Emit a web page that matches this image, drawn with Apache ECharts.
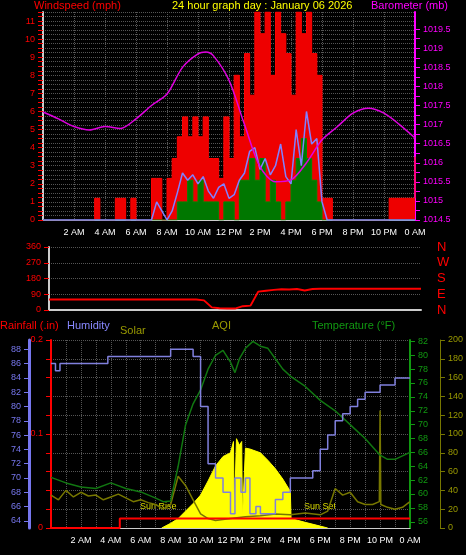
<!DOCTYPE html>
<html>
<head>
<meta charset="utf-8">
<script src="https://cdn.jsdelivr.net/npm/echarts@6/dist/echarts.min.js"></script>
<style>html,body{margin:0;background:#000;}#chart{width:466px;height:555px;}</style>
</head>
<body>
<div id="chart"></div>
<script>
// wind speed, 20 minute steps (72 values + end point)
var windGust = [0,0,0, 0,0,0, 0,0,0, 0,1.2,0, 0,0,1.2, 1.2,0,1.2, 0,0,0,
  2.3,2.3,0, 2.3,3.4,4.6, 5.7,4.6,5.7, 4.6,5.7,3.4, 3.4,2.3,5.7, 3.4,8,4.6,
  9.2,6.9,11.5, 10.3,11.5,8, 11.5,10.3,9.2, 6.9,11.5,10.3, 11.5,9.2,8, 1.2,1.2,0,
  0,0,0, 0,0,0, 0,0,0, 0,1.2,1.2, 1.2,1.2,1.2, 3.5];
var windAvg = [0,0,0, 0,0,0, 0,0,0, 0,0,0, 0,0,0, 0,0,0, 0,0,0, 0,0,0, 0,0,1,
  1,2.2,1, 2.2,1,1, 1,0,1, 1,0,2.2, 2.2,3.4,2.2, 3.4,1,2.2, 1,0,1, 2.2,3.4,4.5,
  3.4,2.2,1, 0,0,0, 0,0,0, 0,0,0, 0,0,0, 0,0,0, 0,0,0, 0];
var windSmooth = [0,0,0, 0,0,0, 0,0,0, 0,0,0, 0,0,0, 0,0,0, 0,0,0, 0,1,0.5, 0,0.5,1.5,
  2.6,2.2,2.5, 2.0,2.4,1.6, 1.2,1.8,2.0, 1.2,1.4,2.2, 2.6,3.8,4.0, 2.8,3.4,2.5,
  3.0,4.2,2.4, 2.0,5.0,3.0, 6.0,4.2,4.5, 1.0,0,0, 0,0,0, 0,0,0, 0,0,0, 0,0,0, 0,0,0, 0];
// barometer, hourly
var baroHours = [0,1,2,3,4,5,6,7,8,9,10,10.5,11,12,13,14,15,16,17,18,19,20,21,22,23,24];
var baro = [1017.33,1017.15,1016.95,1016.86,1016.95,1016.9,1017.15,1017.5,1017.8,1018.5,1018.85,1018.9,1018.8,1018.16,1017.0,1015.9,1015.5,1015.55,1016.0,1016.6,1016.95,1017.3,1017.43,1017.3,1017.0,1016.65];
// wind direction, half hourly
var windDir = [60,60,60,60,60,60,60,60,60,60,60,60,60,60,60,60,60,60,60,60,55,15,10,8,8,22,25,105,110,115,
  118,117,120,112,120,122,122,122,122,122,122,122,122,122,122,122,122,122,122];
// humidity
var humHours = [0,0.3,0.6,3.8,8,9.5,10,10.5,11,11.5,12,12.3,12.7,13,13.3,13.7,14,14.5,15,15.5,16,16.5,17,17.5,18,18.5,19,19.5,20,20.5,21,22,23,24];
var humidity = [86,85,86,87,88,87,80,72,70,68,65,70,68,70,65,66,65,65,67,68,70,70,70,71,74,76,78,79,80,81,82,83,84,84];
// temperature
var tempHours = [0,1,2,3,4,5,6,7,7.5,8,8.5,9,9.5,10,10.5,11,11.5,12,12.3,12.6,13,13.5,14,14.5,15,15.5,16,17,18,19,20,21,22,22.5,23,23.5,24];
var temperature = [62.4,61.6,61,60.8,61.6,60.8,60.3,59.4,58.9,59,64,70,73,75,78,80,80.7,79,77.5,79.5,81,82,81.3,81,79.5,78,77,75.5,73.5,72,70,68,65.6,65,65,65.5,66];
// solar
var solarHours = [7.4,8,8.5,9,9.5,10,10.5,11,11.5,12,12.2,12.25,12.4,12.6,12.75,12.8,13,13.3,14,14.5,15,15.5,16,16.05,17,18,18.5];
var solar = [0,5,10,18,26,35,50,66,76,80,92,10,95,88,92,10,85,84,80,72,63,52,39,10,6,2,0];
// AQI
var aqiHours = [0,0.5,1,1.5,2,2.5,3,3.5,4,4.5,5,5.5,6,6.5,7,7.5,8,8.5,9,9.5,10,10.5,11,12,13,14,15,16,17,18,18.5,19,19.5,20,20.5,21,21.5,21.95,22,22.05,22.5,23,23.5,24];
var aqi = [35,30,40,33,38,34,35,30,33,36,32,28,30,27,25,20,25,55,45,30,15,10,8,10,12,13,15,14,16,14,18,42,35,38,28,25,25,28,125,25,22,20,22,28];
// rainfall
var rainHours = [0,4.6,24];
var rain = [0,0.01,0.01];

function pairs(xs, ys) { return ys.map(function (v, i) { return [xs[i], v]; }); }
function steps(ys) { return ys.map(function (v, i) { return [i / 3, v]; }); }
function range(a, b, s) { var r = []; for (var v = a; v <= b + 1e-9; v += s) r.push(+v.toFixed(2)); return r; }
function hourLabel(v) {
	if (v === 0 || v % 2) return '';
	if (v === 24) return '0 AM';
	if (v === 12) return '12 PM';
	return v < 12 ? v + ' AM' : (v - 12) + ' PM';
}

var FONT = 'Liberation Sans';
var dotted = { lineStyle: { color: '#555', type: 'dotted' } };

var chart = echarts.init(document.getElementById('chart'));
chart.setOption({
	backgroundColor: '#000',
	animation: false,
	textStyle: { fontFamily: FONT },
	graphic: [
		{ type: 'text', left: 34, top: 0, style: { text: 'Windspeed (mph)', fill: '#f00', font: '11px ' + FONT } },
		{ type: 'text', left: 172, top: 0, style: { text: '24 hour graph day : January 06 2026', fill: '#ff0', font: '11px ' + FONT } },
		{ type: 'text', left: 371, top: 0, style: { text: 'Barometer (mb)', fill: '#f0f', font: '11px ' + FONT } },
		{ type: 'text', left: 0, top: 320, style: { text: 'Rainfall (.in)', fill: '#f00', font: '11px ' + FONT } },
		{ type: 'text', left: 67, top: 320, style: { text: 'Humidity', fill: '#8888ff', font: '11px ' + FONT } },
		{ type: 'text', left: 120, top: 325, style: { text: 'Solar', fill: '#999900', font: '11px ' + FONT } },
		{ type: 'text', left: 212, top: 320, style: { text: 'AQI', fill: '#999900', font: '11px ' + FONT } },
		{ type: 'text', left: 312, top: 320, style: { text: 'Temperature (°F)', fill: '#119911', font: '11px ' + FONT } },
		{ type: 'text', left: 140, top: 502, style: { text: 'Sun Rise', fill: '#dddd00', font: '9px ' + FONT } },
		{ type: 'text', left: 304, top: 502, style: { text: 'Sun Set', fill: '#dddd00', font: '9px ' + FONT } }
	],
	grid: [
		{ left: 43, right: 51, top: 12, height: 208 },
		{ left: 49, right: 45, top: 247, height: 63 },
		{ left: 51, right: 51, top: 340, height: 188 }
	],
	xAxis: [
		{ gridIndex: 0, type: 'value', min: 0, max: 24, interval: 2,
			axisLine: { lineStyle: { color: '#ccc' } }, axisTick: { show: false },
			axisLabel: { color: '#fff', fontSize: 9, formatter: hourLabel },
			splitLine: dotted },
		{ gridIndex: 1, type: 'value', min: 0, max: 24, interval: 2,
			axisLine: { lineStyle: { color: '#ccc', width: 2 } }, axisTick: { show: false },
			axisLabel: { show: false }, splitLine: { show: false } },
		{ gridIndex: 2, type: 'value', min: 0, max: 24, interval: 1,
			axisLine: { lineStyle: { color: '#ccc' } }, axisTick: { show: false },
			axisLabel: { color: '#fff', fontSize: 9, formatter: hourLabel },
			splitLine: dotted }
	],
	yAxis: [
		{ gridIndex: 0, min: 0, max: 11.5,
			axisLine: { show: true, onZero: false, lineStyle: { color: '#ccc', width: 2 } },
			axisTick: { show: true, lineStyle: { color: '#f00' }, customValues: range(0, 11.5, 0.25) },
			axisLabel: { color: '#f00', fontSize: 9, customValues: range(0, 11, 1) },
			splitLine: dotted },
		{ gridIndex: 0, position: 'right', min: 1014.5, max: 1019.95,
			axisLine: { show: true, onZero: false, lineStyle: { color: '#f0f', width: 2 } },
			axisTick: { show: true, customValues: range(1014.5, 1019.5, 0.25) },
			axisLabel: { color: '#f0f', fontSize: 9, customValues: range(1014.5, 1019.5, 0.5),
				formatter: function (v) { return String(v); } },
			splitLine: { show: false } },
		{ gridIndex: 1, min: 0, max: 360, interval: 90,
			axisLine: { show: true, onZero: false, lineStyle: { color: '#ccc', width: 2 } },
			axisTick: { show: true, lineStyle: { color: '#f00' } },
			axisLabel: { color: '#f00', fontSize: 9 }, splitLine: dotted },
		{ gridIndex: 1, position: 'right', min: 0, max: 360, interval: 90, offset: 8,
			axisLine: { show: false }, axisTick: { show: false },
			axisLabel: { color: '#f00', fontSize: 13,
				formatter: function (v) { return { 0: 'N', 90: 'E', 180: 'S', 270: 'W', 360: 'N' }[v]; } },
			splitLine: { show: false } },
		{ gridIndex: 2, position: 'left', min: 63, max: 89.3, offset: 22,
			axisLine: { show: true, onZero: false, lineStyle: { color: '#7777ee', width: 3 } },
			axisTick: { show: true, customValues: range(64, 88, 2) },
			axisLabel: { color: '#7777ee', fontSize: 9, customValues: range(64, 88, 2) },
			splitLine: { show: false } },
		{ gridIndex: 2, position: 'left', offset: 0, min: 0, max: 0.2,
			axisLine: { show: true, onZero: false, lineStyle: { color: '#f00', width: 2 } },
			axisTick: { show: true, customValues: range(0, 0.2, 0.02) },
			axisLabel: { color: '#f00', fontSize: 9, customValues: [0, 0.1, 0.2] },
			splitLine: { show: false } },
		{ gridIndex: 2, position: 'right', min: 55.1, max: 82.2,
			axisLine: { show: true, onZero: false, lineStyle: { color: '#119911', width: 2 } },
			axisTick: { show: true, customValues: range(56, 82, 2) },
			axisLabel: { color: '#119911', fontSize: 9, customValues: range(56, 82, 2) },
			splitLine: { show: false } },
		{ gridIndex: 2, position: 'right', min: 0, max: 200, interval: 20, offset: 30,
			axisLine: { show: true, onZero: false, lineStyle: { color: '#777700' } },
			axisTick: { show: true },
			axisLabel: { color: '#999900', fontSize: 9 }, splitLine: dotted }
	],
	series: [
		{ type: 'line', xAxisIndex: 0, yAxisIndex: 0, step: 'end', symbol: 'none', data: steps(windGust),
			lineStyle: { color: '#f00', width: 1 }, areaStyle: { color: '#ee0000', opacity: 1 } },
		{ type: 'line', xAxisIndex: 0, yAxisIndex: 0, step: 'end', symbol: 'none', data: steps(windAvg),
			lineStyle: { color: '#008800', width: 1 }, areaStyle: { color: '#007700', opacity: 1 } },
		{ type: 'line', xAxisIndex: 0, yAxisIndex: 0, symbol: 'none', data: steps(windSmooth),
			lineStyle: { color: '#8080ff', width: 1.5 } },
		{ type: 'line', xAxisIndex: 0, yAxisIndex: 1, symbol: 'none', smooth: 0.3, data: pairs(baroHours, baro),
			lineStyle: { color: '#e000e0', width: 1.5 } },
		{ type: 'line', xAxisIndex: 1, yAxisIndex: 2, symbol: 'none', data: windDir.map(function (v, i) { return [i / 2, v]; }),
			lineStyle: { color: '#f00', width: 2 } },
		{ type: 'line', xAxisIndex: 2, yAxisIndex: 7, symbol: 'none', data: pairs(solarHours, solar),
			lineStyle: { color: '#ffff00', width: 1 }, areaStyle: { color: '#ffff00', opacity: 1 } },
		{ type: 'line', xAxisIndex: 2, yAxisIndex: 7, symbol: 'none', data: pairs(aqiHours, aqi),
			lineStyle: { color: '#777700', width: 1.5 } },
		{ type: 'line', xAxisIndex: 2, yAxisIndex: 5, step: 'end', symbol: 'none', data: pairs(rainHours, rain),
			lineStyle: { color: '#f00', width: 2 } },
		{ type: 'line', xAxisIndex: 2, yAxisIndex: 6, symbol: 'none', data: pairs(tempHours, temperature),
			lineStyle: { color: '#117711', width: 1.5 } },
		{ type: 'line', xAxisIndex: 2, yAxisIndex: 4, step: 'end', symbol: 'none', data: pairs(humHours, humidity),
			lineStyle: { color: '#8080dd', width: 1.5 } }
	]
});
</script>
</body>
</html>
